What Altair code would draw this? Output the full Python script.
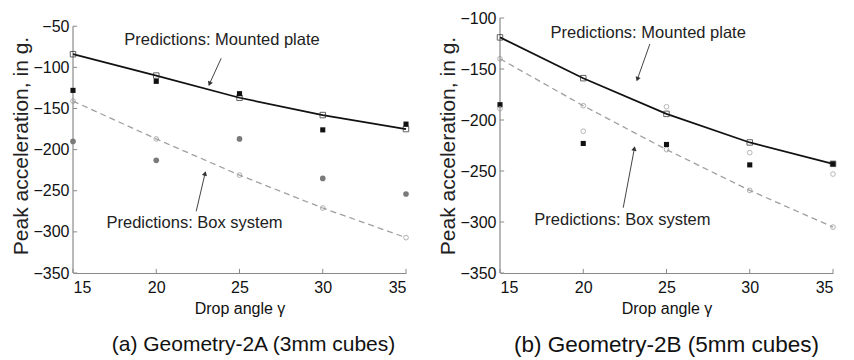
import altair as alt
import pandas as pd

FONT = "Liberation Sans"

angles = [15, 20, 25, 30, 35]

# Geometry-2A (3mm cubes)
a_pred_plate = [-84, -110, -137, -158, -175]
a_pred_box = [-141, -187, -231, -271, -307]
a_exp_plate = [-128, -117, -132, -176, -169]
a_exp_box = [-190, -213, -187, -235, -254]

# Geometry-2B (5mm cubes)
b_pred_plate = [-119, -159, -194, -222, -243]
b_pred_box = [-140, -186, -229, -269, -305]
b_exp_plate = [-185, -223, -224, -244, -243]
b_exp_box = [-189, -211, -187, -232, -253]

ann_labels = ["Predictions: Mounted plate", "Predictions: Box system"]
a_text_x = [23.95, 22.3]
a_text_y = [-67, -289]
a_from_x = [23.9, 22.4]
a_from_y = [-89, -275]
a_to_x = [23.2, 22.93]
a_to_y = [-120, -229]
a_head_angle = [203, 15]

b_text_x = [23.9, 22.35]
b_text_y = [-114.7, -298]
b_from_x = [24.0, 22.4]
b_from_y = [-125.5, -286]
b_to_x = [23.25, 23.07]
b_to_y = [-160, -228]
b_head_angle = [200, 11]

x_ticks = [15, 20, 25, 30, 35]
a_y_ticks = [-50, -100, -150, -200, -250, -300, -350]
b_y_ticks = [-100, -150, -200, -250, -300, -350]

captions = ["(a)  Geometry-2A (3mm cubes)", "(b) Geometry-2B (5mm cubes)"]

AXIS_COLOR = "#8a8a8a"


def panel(pred_plate, pred_box, exp_plate, exp_box, exp_box_filled,
          ydom, yticks, tx, ty, fx, fy, hx, hy, hang, caption,
          cap_size, cap_dx, tick_len):
    df = pd.DataFrame({"x": angles, "pp": pred_plate, "pb": pred_box,
                       "ep": exp_plate, "eb": exp_box})
    xs = alt.Scale(domain=[15, 35], nice=False, zero=False)
    ys = alt.Scale(domain=ydom, nice=False, zero=False)
    xax = alt.Axis(values=x_ticks, grid=False, ticks=False, tickSize=0,
                   domain=True, domainColor=AXIS_COLOR, domainWidth=1.2,
                   labelFont=FONT, labelFontSize=16, labelColor="#111",
                   labelPadding=6, labelOverlap=False,
                   title="Drop angle γ", titleFont=FONT, titleFontSize=16,
                   titleFontWeight="normal", titleColor="#111",
                   titlePadding=5)
    yax = alt.Axis(values=yticks, grid=False, ticks=False, tickSize=0,
                   domain=False, labelFont=FONT, labelFontSize=16,
                   labelColor="#111", labelPadding=4, labelOverlap=False,
                   title="Peak acceleration,  in g.", titleFont=FONT,
                   titleFontSize=21, titleFontWeight="normal",
                   titleColor="#222", titlePadding=1)

    base = alt.Chart(df)
    frame = base.mark_point(opacity=0).encode(
        x=alt.X("x:Q", scale=xs, axis=xax),
        y=alt.Y("pp:Q", scale=ys, axis=yax),
    )
    # y axis line
    yline = alt.Chart(pd.DataFrame({"x": [15], "y": [yticks[-1]], "y2": [yticks[0]]})).mark_rule(
        color=AXIS_COLOR, strokeWidth=1.2).encode(
        x=alt.X("x:Q", scale=xs), y=alt.Y("y:Q", scale=ys), y2="y2:Q")
    # inward ticks
    yt = alt.Chart(pd.DataFrame({"y": yticks, "x": [15] * len(yticks),
                                 "x2": [15.25] * len(yticks)})).mark_rule(
        color=AXIS_COLOR, strokeWidth=1).encode(
        x=alt.X("x:Q", scale=xs), x2="x2:Q", y=alt.Y("y:Q", scale=ys))
    xt = alt.Chart(pd.DataFrame({"x": x_ticks, "y": [yticks[-1]] * len(x_ticks),
                                 "y2": [yticks[-1] + tick_len] * len(x_ticks)})).mark_rule(
        color=AXIS_COLOR, strokeWidth=1).encode(
        x=alt.X("x:Q", scale=xs), y=alt.Y("y:Q", scale=ys), y2="y2:Q")

    box_line = base.mark_line(color="#a0a0a0", strokeWidth=1.3,
                              strokeDash=[6, 4]).encode(
        x=alt.X("x:Q", scale=xs), y=alt.Y("pb:Q", scale=ys))
    box_pts = base.mark_point(shape="circle", filled=False, color="#8f8f8f",
                              size=22, strokeWidth=1).encode(
        x=alt.X("x:Q", scale=xs), y=alt.Y("pb:Q", scale=ys))
    plate_line = base.mark_line(color="#111", strokeWidth=1.7).encode(
        x=alt.X("x:Q", scale=xs), y=alt.Y("pp:Q", scale=ys))
    plate_pts = base.mark_point(shape="square", filled=False, color="#222",
                                size=30, strokeWidth=1).encode(
        x=alt.X("x:Q", scale=xs), y=alt.Y("pp:Q", scale=ys))
    exp_sq = base.mark_point(shape="square", filled=True, color="#111",
                             size=26, opacity=1).encode(
        x=alt.X("x:Q", scale=xs), y=alt.Y("ep:Q", scale=ys))
    if exp_box_filled:
        exp_c = base.mark_point(shape="circle", filled=True, color="#7a7a7a",
                                size=32, opacity=1).encode(
            x=alt.X("x:Q", scale=xs), y=alt.Y("eb:Q", scale=ys))
    else:
        exp_c = base.mark_point(shape="circle", filled=False, color="#9a9a9a",
                                size=22, strokeWidth=1).encode(
            x=alt.X("x:Q", scale=xs), y=alt.Y("eb:Q", scale=ys))

    adf = pd.DataFrame({"t": ann_labels, "tx": tx, "ty": ty, "fx": fx,
                        "fy": fy, "hx": hx, "hy": hy, "ang": hang})
    abase = alt.Chart(adf)
    atext = abase.mark_text(font=FONT, fontSize=16.5, color="#222",
                            align="center", baseline="middle").encode(
        x=alt.X("tx:Q", scale=xs), y=alt.Y("ty:Q", scale=ys), text="t:N")
    arule = abase.mark_rule(color="#444", strokeWidth=1).encode(
        x=alt.X("fx:Q", scale=xs), y=alt.Y("fy:Q", scale=ys),
        x2="hx:Q", y2="hy:Q")
    ahead = abase.mark_point(shape="triangle-up", filled=True, color="#333",
                             size=28, opacity=1).encode(
        x=alt.X("hx:Q", scale=xs), y=alt.Y("hy:Q", scale=ys),
        angle=alt.Angle("ang:Q", scale=None))

    return alt.layer(frame, yline, yt, xt, box_line, box_pts, plate_line,
                     plate_pts, exp_sq, exp_c, arule, ahead, atext).properties(
        width=333, height=255,
        title=alt.Title(caption, orient="bottom", anchor="middle",
                        font=FONT, fontSize=cap_size, fontWeight="normal",
                        color="#111", offset=18, dx=cap_dx))


left = panel(a_pred_plate, a_pred_box, a_exp_plate, a_exp_box, True,
             [-350, -40], a_y_ticks, a_text_x, a_text_y, a_from_x, a_from_y,
             a_to_x, a_to_y, a_head_angle, captions[0], 21, 14, 5)
right = panel(b_pred_plate, b_pred_box, b_exp_plate, b_exp_box, False,
              [-350, -100], b_y_ticks, b_text_x, b_text_y, b_from_x, b_from_y,
              b_to_x, b_to_y, b_head_angle, captions[1], 22.5, 0, 4)

chart = alt.hconcat(left, right, spacing=26).properties(
    padding={"left": 10, "top": 10, "right": 0, "bottom": 0},
    background="white",
).configure_view(stroke=None)

chart.save("out.html", embed_options={"renderer": "svg", "actions": False})
